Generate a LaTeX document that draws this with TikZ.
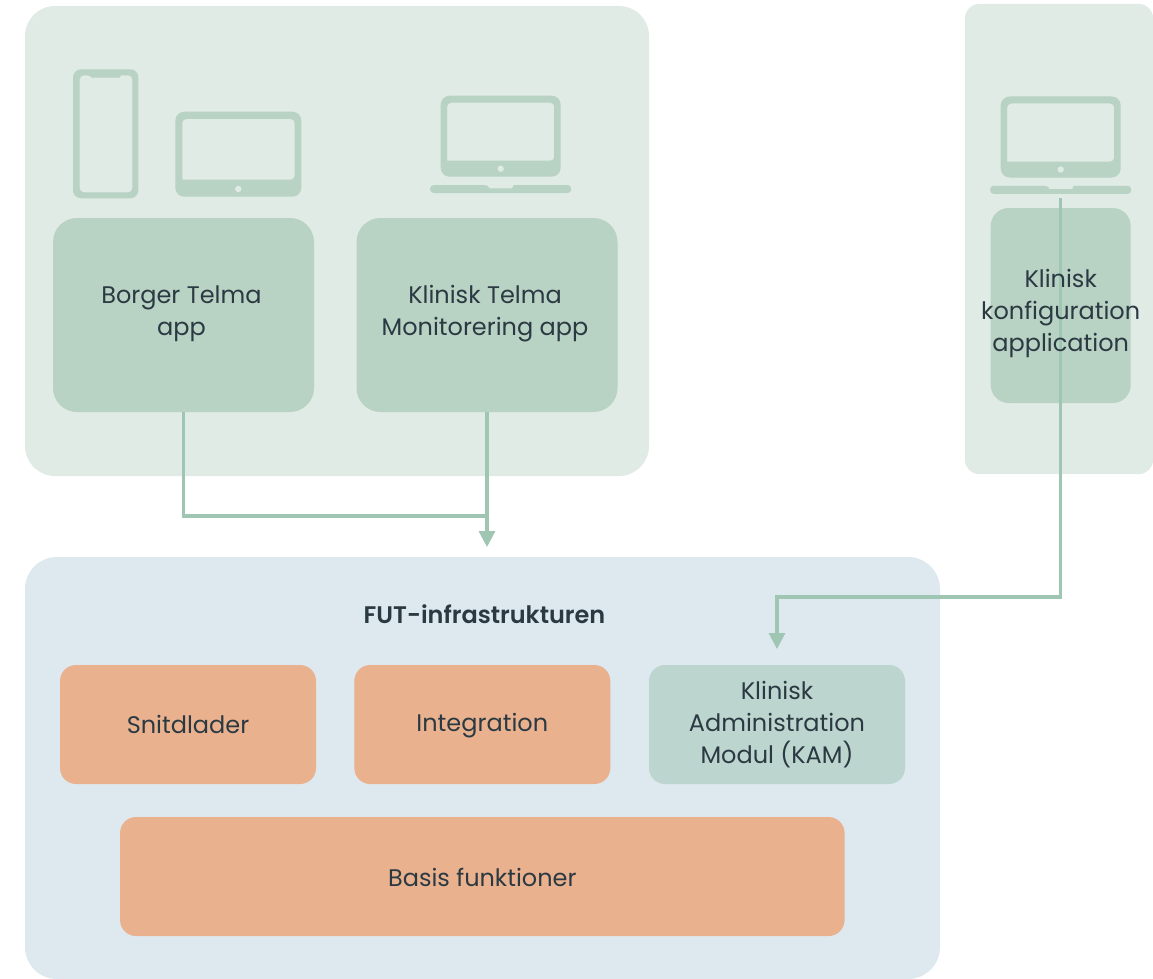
\documentclass[tikz,border=0pt]{standalone}
\usepackage{fontspec}
\setmainfont{Poppins}
\newfontface\titlefont{Poppins SemiBold}
\usetikzlibrary{arrows.meta}
\definecolor{panelgreen}{HTML}{E0EBE5}
\definecolor{boxgreen}{HTML}{B8D2C4}
\definecolor{linegreen}{HTML}{9FC6B3}
\definecolor{panelblue}{HTML}{DEE8EF}
\definecolor{boxorange}{HTML}{EAB18E}
\definecolor{boxkam}{HTML}{BDD5CF}
\definecolor{txt}{HTML}{2B3A42}
\tikzset{
  x=1pt,y=-1pt,
  card/.style={inner sep=0pt,outer sep=0pt,rounded corners=#1,text=txt,align=center,font=\fontsize{24}{32}\selectfont},
  label text/.style={inner sep=0pt,text=txt,align=center,font=\fontsize{24}{32}\selectfont},
  conn/.style={draw=linegreen,line width=3.1pt},
  arrowed/.style={conn,-{Triangle[width=16pt,length=16pt]}},
  icon/.style={fill=boxgreen,even odd rule,draw=none},
}
\newcommand{\laptopicon}[2]{%
  \begin{scope}[shift={(#1,#2)}]
    \fill[icon,rounded corners=9pt] (0,0) rectangle (120,81)
      [rounded corners=4pt] (6.5,7) -- (113.5,7) -- (113.5,65) [sharp corners] -- (6.5,65) [rounded corners=4pt] -- cycle;
    \fill[panelgreen] (60,73) circle (3.2);
    \fill[icon,rounded corners=3.5pt] (-10.5,89.3) -- (47.5,89.3) [sharp corners] -- (49,92.6) -- (71.5,92.6) -- (73,89.3) [rounded corners=3.5pt] -- (130.5,89.3) -- (130.5,97.3) -- (-10.5,97.3) -- cycle;
  \end{scope}}
\begin{document}
\begin{tikzpicture}
\useasboundingbox (0,0) rectangle (1153,979);
\fill[white] (0,0) rectangle (1153,979);
% panels
\node[card=30pt,fill=panelgreen,minimum width=624pt,minimum height=470pt] (top) at (337,241) {};
\node[card=14pt,fill=panelgreen,minimum width=188pt,minimum height=470pt] (right) at (1059,239) {};
\node[card=32pt,fill=panelblue,minimum width=915pt,minimum height=422pt] (fut) at (482.5,768) {};
% icons
\fill[icon,rounded corners=8pt] (73,69.3) rectangle (138.3,198.3)
  [rounded corners=4pt] (79.7,75.3) -- (91,75.3) [sharp corners] -- (92.5,77.7) -- (119.5,77.7) -- (121,75.3) [rounded corners=4pt] -- (132.3,75.3) -- (132.3,192.3) -- (79.7,192.3) -- cycle;
\fill[icon,rounded corners=9pt] (175.3,111.7) rectangle (301.3,196.7)
  [rounded corners=4pt] (182.3,119) -- (294.7,119) -- (294.7,179.7) [sharp corners] -- (182.3,179.7) [rounded corners=4pt] -- cycle;
\fill[panelgreen] (238.3,189) circle (3.2);
\laptopicon{440.7}{95.7}
\laptopicon{1000.7}{96.5}
% boxes
\node[card=24pt,fill=boxgreen,minimum width=261pt,minimum height=194pt] (borger) at (183.5,315) {};
\node[label text] (borgertext) at (181.4,314) {Borger Telma\\app};
\node[card=24pt,fill=boxgreen,minimum width=261pt,minimum height=194pt] (klinisk) at (487,315) {};
\node[label text] (klinisktext) at (485,314) {Klinisk Telma\\Monitorering app};
\node[card=18pt,fill=boxgreen,minimum width=140pt,minimum height=195pt] (konfig) at (1060.7,305.5) {};
\node[card=16pt,fill=boxorange,minimum width=256pt,minimum height=119pt] (snit) at (188,724.5) {Snitdlader};
\node[card=16pt,fill=boxorange,minimum width=256pt,minimum height=119pt] (integ) at (482.3,724.5) {};
\node[label text] (integtext) at (482.3,725.5) {Integration};
\node[card=16pt,fill=boxkam,minimum width=256pt,minimum height=119pt] (kam) at (777,724.5) {Klinisk\\Administration\\Modul (KAM)};
\node[card=16pt,fill=boxorange,minimum width=724.5pt,minimum height=119pt] (basis) at (482.3,876.5) {};
\node[label text] (basistext) at (482.3,877.5) {Basis funktioner};
\node[inner sep=0pt,text=txt,font=\fontsize{24}{32}\titlefont] (futtitle) at (484.5,614) {FUT-infrastrukturen};
% connectors
\coordinate (lapfoot) at (1060.7,198);
\coordinate (futin) at (487,547);
\coordinate (kamin) at (777,649);
\coordinate (bend) at (1060.7,597);
\coordinate (join) at (487,516);
\draw[conn] (borger.south) |- (join);
\draw[arrowed] (klinisk.south) -- (futin);
\draw[arrowed] (lapfoot) -- (bend) -| (kamin);
\node[label text] (konfigtext) at (1060.7,313) {Klinisk\\konfiguration\\application};
\end{tikzpicture}
\end{document}
